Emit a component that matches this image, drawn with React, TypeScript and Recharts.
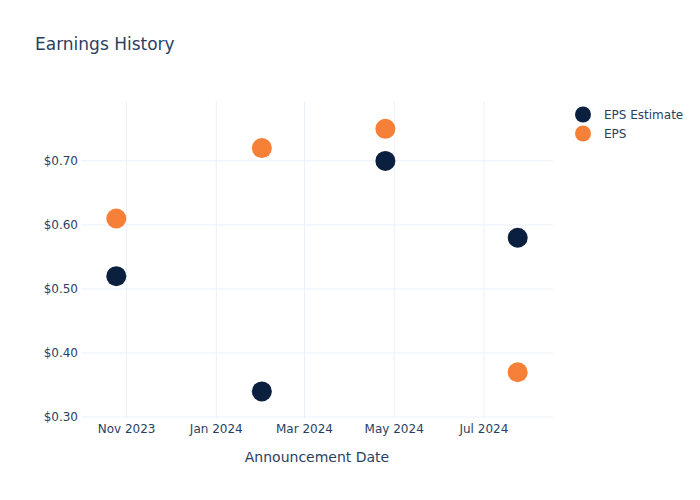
import React from 'react';
import { ScatterChart, Scatter, XAxis, YAxis, CartesianGrid, Legend, Label } from 'recharts';

const dates = ['2023-10-25', '2024-02-01', '2024-04-25', '2024-07-24'];
const epsEstimate = [0.52, 0.34, 0.7, 0.58];
const eps = [0.61, 0.72, 0.75, 0.37];
const xTickDates = ['2023-11-01', '2024-01-01', '2024-03-01', '2024-05-01', '2024-07-01'];
const yTicks = [0.3, 0.4, 0.5, 0.6, 0.7];
const xDomainDates = ['2023-10-01', '2024-08-17'];
const yDomain = [0.2985, 0.7935];
const seriesNames = ['EPS Estimate', 'EPS'];
const colors = ['#0b1f3f', '#f68038'];

const MONTHS = ['Jan', 'Feb', 'Mar', 'Apr', 'May', 'Jun', 'Jul', 'Aug', 'Sep', 'Oct', 'Nov', 'Dec'];
const ts = (d: string) => Date.parse(d + 'T00:00:00Z');
const estData = dates.map((d, i) => ({ x: ts(d), y: epsEstimate[i] }));
const epsData = dates.map((d, i) => ({ x: ts(d), y: eps[i] }));

const FONT = '"DejaVu Sans", Verdana, sans-serif';
const TEXT = '#2a3f5f';

const Dot = (color: string) => (props: any) => (
  <circle cx={props.cx} cy={props.cy} r={10} fill={color} />
);

const LegendContent = () => (
  <div style={{ fontFamily: FONT, fontSize: 12, color: TEXT }}>
    {seriesNames.map((n, i) => (
      <div key={n} style={{ display: 'flex', alignItems: 'center', height: 19 }}>
        <svg width={20} height={19} style={{ marginRight: 11 }}>
          <circle cx={10} cy={9.5} r={8} fill={colors[i]} />
        </svg>
        <span>{n}</span>
      </div>
    ))}
  </div>
);

export default function App() {
  return (
    <div style={{ position: 'absolute', left: 0, top: 0, width: 700, height: 500, background: '#fff' }}>
      <div style={{ position: 'absolute', left: 35, top: 34, fontFamily: FONT, fontSize: 17, color: TEXT }}>
        Earnings History
      </div>
      <ScatterChart width={700} height={500} margin={{ top: 101, right: 147, bottom: 32, left: 31 }}>
        <CartesianGrid stroke="#ebf0f8" strokeWidth={1} syncWithTicks />
        <XAxis
          type="number"
          dataKey="x"
          domain={[ts(xDomainDates[0]), ts(xDomainDates[1])]}
          ticks={xTickDates.map(ts)}
          tickFormatter={(v: number) => {
            const d = new Date(v);
            return `${MONTHS[d.getUTCMonth()]} ${d.getUTCFullYear()}`;
          }}
          axisLine={false}
          tickLine={false}
          tickSize={0}
          tickMargin={6}
          height={50}
          tick={{ fill: TEXT, fontSize: 12, fontFamily: FONT }}
          allowDataOverflow
        >
          <Label value="Announcement Date" position="insideBottom" offset={6} fill={TEXT} fontSize={14} fontFamily={FONT} />
        </XAxis>
        <YAxis
          type="number"
          dataKey="y"
          domain={yDomain}
          ticks={yTicks}
          tickFormatter={(v: number) => `$${v.toFixed(2)}`}
          axisLine={false}
          tickLine={false}
          tickSize={0}
          tickMargin={3}
          width={50}
          tick={{ fill: TEXT, fontSize: 12, fontFamily: FONT }}
          allowDataOverflow
        />
        <Legend
          layout="horizontal"
          verticalAlign="middle"
          align="center"
          content={<LegendContent />}
          wrapperStyle={{ position: 'absolute', left: 573, top: 105, width: 127 }}
        />
        <Scatter name={seriesNames[0]} data={estData} fill={colors[0]} shape={Dot(colors[0])} isAnimationActive={false} />
        <Scatter name={seriesNames[1]} data={epsData} fill={colors[1]} shape={Dot(colors[1])} isAnimationActive={false} />
      </ScatterChart>
    </div>
  );
}
